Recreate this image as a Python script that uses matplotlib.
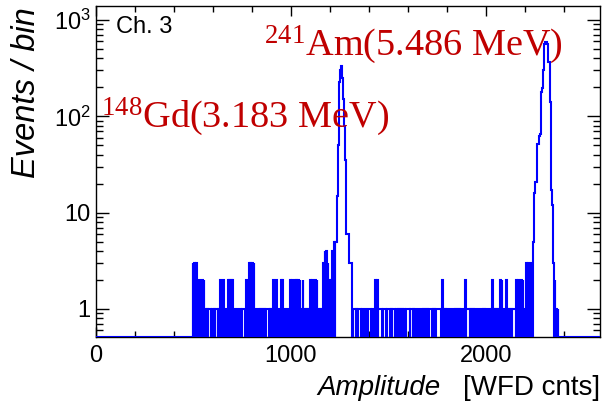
import numpy as np
import matplotlib
matplotlib.use('Agg')
import matplotlib.pyplot as plt
from matplotlib.ticker import FixedLocator, MultipleLocator, FixedFormatter, LogLocator, NullFormatter

plt.rcParams['font.family'] = ['Liberation Sans', 'DejaVu Sans']
plt.rcParams['mathtext.fontset'] = 'custom'
plt.rcParams['mathtext.rm'] = 'Liberation Serif'
plt.rcParams['mathtext.sf'] = 'Liberation Sans'
plt.rcParams['mathtext.it'] = 'Liberation Serif:italic'
plt.rcParams['path.simplify'] = False

# ---------------- data (bin width 4 WFD counts, first bin at 492) ----------------
bin_start = 492
bin_width = 4
# noise floor before the Gd peak, one digit per bin (492 ... 1228)
noise_a = ("0303030102" "0102020101" "0111101010" "1110102010" "2010102020"
           "2020101010" "1010111102" "0103030303" "0101010101" "0101011110"
           "1010202020" "1010202010" "1010102020" "1020202020" "1020101010"
           "1020201020" "2010101030" "4040302020" "40505")
# 148Gd peak (1232 ... 1308)
gd_peak = [5, 15, 50, 130, 230, 300, 335, 320, 250, 150, 80, 35, 15, 6, 6, 6, 5, 3, 3, 3]
# noise floor between the peaks (1312 ... 2200)
noise_b = ("0" "1111" "0" "1" "0" "1111" "0" "10101010" "1111" "0" "10102020"
           "111110" "11110111101011110" "1010101010101" "11110111" "0"
           "10101010101010101010" "11110" "1010" "1111111" "0" "20"
           "101010101010101010101010101" "20" "11110"
           "1010101010101010101010101010" "20" "1010101" "02020" "1010" "20"
           "101010" "11110" "202" "01" "02020" "10")
# shoulder before the Am peak (2204 ... 2236)
am_pre = "030303030"
# 241Am peak (2240 ... 2368)
am_peak = [5, 8, 16, 21, 21, 21, 52, 52, 62, 66, 158, 180, 195, 300, 450, 570, 590,
           590, 570, 560, 370, 370, 140, 55, 17, 12, 3, 0, 2, 0, 1, 0, 1]

x_min, x_max = 0, 2585
y_min, y_max = 0.51, 1400
x_major = [0, 1000, 2000]
x_major_labels = ['0', '1000', '2000']
y_major = [1, 10, 100, 1000]
y_major_labels = ['1', '10', r'$\mathsf{10^{2}}$', r'$\mathsf{10^{3}}$']

counts = ([int(c) for c in noise_a] + gd_peak + [int(c) for c in noise_b]
          + [int(c) for c in am_pre] + am_peak)
counts = np.array(counts, dtype=float)
edges = bin_start + bin_width * np.arange(len(counts) + 1)
# extend with empty bins to the axis range
edges_full = np.concatenate([[x_min], edges, [x_max]])
counts_full = np.concatenate([[0], counts, [0]])
vals = np.where(counts_full > 0, counts_full, y_min)

# ---------------- figure ----------------
W, H = 604, 401
fig = plt.figure(figsize=(W / 100, H / 100), dpi=100)
L, R, T, B = 96, 600, 6, 337
ax = fig.add_axes([L / W, 1 - B / H, (R - L) / W, (B - T) / H])

ax.stairs(vals, edges_full, color='#0000ff', lw=1.5, baseline=None, zorder=3)

ax.set_yscale('log')
ax.set_xlim(x_min, x_max)
ax.set_ylim(y_min, y_max)

ax.xaxis.set_major_locator(FixedLocator(x_major))
ax.xaxis.set_major_formatter(FixedFormatter(x_major_labels))
ax.xaxis.set_minor_locator(MultipleLocator(200))
ax.yaxis.set_major_locator(FixedLocator(y_major))
ax.yaxis.set_major_formatter(FixedFormatter(y_major_labels))
ax.yaxis.set_minor_locator(LogLocator(base=10, subs=np.arange(2, 10)))
ax.yaxis.set_minor_formatter(NullFormatter())

ax.tick_params(which='both', direction='in', top=True, right=True, width=1.0, labelsize=17)
ax.xaxis.set_tick_params(which='major', length=7.5, pad=6)
ax.xaxis.set_tick_params(which='minor', length=4.3)
ax.yaxis.set_tick_params(which='major', length=9.5, pad=4)
ax.yaxis.set_tick_params(which='minor', length=5)
for s in ax.spines.values():
    s.set_linewidth(1.0)

# axis titles
fig.text(27 / W, 1 - 7 / H, 'Events / bin', rotation=90, ha='center', va='top',
         style='italic', fontsize=23.5)
fig.text(600 / W, 1 - 395 / H, '[WFD cnts]', ha='right', va='baseline', fontsize=20)
fig.text(441 / W, 1 - 395 / H, 'Amplitude', ha='right', va='baseline', style='italic', fontsize=20)

# annotations
fig.text(116 / W, 1 - 33 / H, 'Ch. 3', ha='left', va='baseline', fontsize=17)
red = '#c00000'
fig.text(101 / W, 1 - 127 / H, r'$^{\mathrm{148}}$Gd(3.183 MeV)', ha='left', va='baseline',
         family='Liberation Serif', fontsize=27.5, color=red)
fig.text(264 / W, 1 - 55 / H, r'$^{\mathrm{241}}$Am(5.486 MeV)', ha='left', va='baseline',
         family='Liberation Serif', fontsize=27.5, color=red)

fig.savefig('out.png', dpi=100)
